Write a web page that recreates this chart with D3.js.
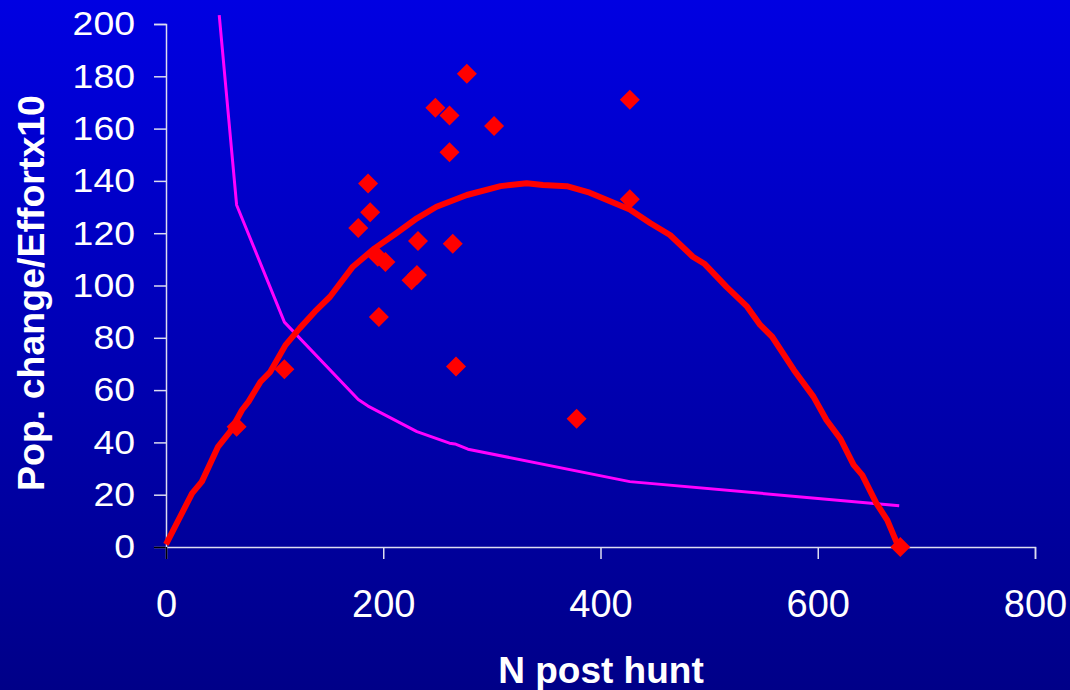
<!DOCTYPE html>
<html>
<head>
<meta charset="utf-8">
<script src="https://cdn.jsdelivr.net/npm/d3@7"></script>
<style>
  html, body { margin: 0; padding: 0; background: #00008a; }
  svg { display: block; }
  text { font-family: Arial, "Liberation Sans", sans-serif; fill: #ffffff; }
</style>
</head>
<body>
<svg id="chart" width="1070" height="690"></svg>
<script>
// Observed harvest data: population after hunt vs. population change per unit effort
const obsN      = [65, 109, 177, 186, 188, 195, 202, 196, 226, 231, 232, 248, 261, 261, 264, 267, 277, 302, 378, 427, 427, 676];
const obsChange = [46, 68, 122, 139, 128, 111, 109, 88, 102, 104, 117, 168, 165, 151, 116, 69, 181, 161, 49, 171, 133, 0];

// Fitted surplus-production curve
const fitN      = [0, 24, 33, 48, 59, 70, 76, 87, 96, 110, 123, 137, 151, 172, 192, 212, 231, 249, 277, 308, 332, 347, 369, 390, 427, 446, 464, 485, 496, 516, 535, 547, 558, 578, 596, 608, 621, 633, 641, 654, 664, 673];
const fitChange = [1, 20.5, 25, 38.4, 44.1, 52.4, 55.6, 63.2, 67, 77.2, 83.6, 90, 95.7, 107.2, 114.2, 120, 125.7, 130.1, 134.6, 138, 139.1, 138.4, 138, 135.5, 129.1, 123.8, 119.3, 111, 108.2, 99.5, 91.9, 84.9, 80.4, 67.7, 57.5, 48.6, 41.3, 31.4, 27.5, 16.7, 10.3, 1.4];

// Effort line
const effN      = [49, 65, 109, 177, 186, 231, 261, 266, 278, 427, 675];
const effValue  = [203.4, 130.8, 86.0, 56.4, 53.9, 44.1, 39.7, 39.4, 37.4, 25.0, 15.8];

const xTicks = [0, 200, 400, 600, 800];
const yTicks = [0, 20, 40, 60, 80, 100, 120, 140, 160, 180, 200];

const svg = d3.select("#chart");
const W = 1070, H = 690;

// Background gradient
const defs = svg.append("defs");
const grad = defs.append("linearGradient").attr("id", "bg")
  .attr("x1", 0).attr("y1", 0).attr("x2", 0).attr("y2", 1);
grad.append("stop").attr("offset", "0%").attr("stop-color", "#0000e2");
grad.append("stop").attr("offset", "100%").attr("stop-color", "#000088");
svg.append("rect").attr("width", W).attr("height", H).attr("fill", "url(#bg)");

const x = d3.scaleLinear().domain([0, 800]).range([166, 1035]);
const y = d3.scaleLinear().domain([0, 200]).range([547, 24]);

const axisColor = "#dcdcf0";
const font = "Arial, 'Liberation Sans', sans-serif";

// Y axis
const yAxis = svg.append("g").attr("transform", `translate(${x(0)},0)`)
  .call(d3.axisLeft(y).tickValues(yTicks).tickSize(12).tickPadding(19).tickFormat(d3.format("d")));
yAxis.select(".domain").attr("stroke", axisColor).attr("stroke-width", 1.5);
yAxis.selectAll(".tick line").attr("stroke", d => d === 0 ? "#000000" : axisColor).attr("stroke-width", 1.5);
yAxis.selectAll(".tick text").style("font-size", "34px").style("font-family", font)
  .attr("fill", "#ffffff")
  .attr("transform", "translate(-31,0) scale(1.1,1) translate(31,0)");

// X axis
const xAxis = svg.append("g").attr("transform", `translate(0,${y(0)})`)
  .call(d3.axisBottom(x).tickValues(xTicks).tickSize(12).tickPadding(0).tickFormat(d3.format("d")));
xAxis.select(".domain").attr("stroke", axisColor).attr("stroke-width", 1.5);
xAxis.selectAll(".tick line").attr("stroke", d => d === 0 ? "#000000" : axisColor).attr("stroke-width", 1.5);
xAxis.selectAll(".tick text").style("font-size", "38px").style("font-family", font)
  .attr("fill", "#ffffff").attr("dy", null).attr("y", 70);

// Effort line
const effPts = effN.map((n, i) => [n, effValue[i]]);
svg.append("path").datum(effPts)
  .attr("fill", "none").attr("stroke", "#ff00ff").attr("stroke-width", 3).attr("stroke-linejoin", "round")
  .attr("d", d3.line().x(d => x(d[0])).y(d => y(d[1])));

// Fitted curve
const fitPts = fitN.map((n, i) => [n, fitChange[i]]);
svg.append("path").datum(fitPts)
  .attr("fill", "none").attr("stroke", "#ff0000").attr("stroke-width", 6).attr("stroke-linejoin", "round")
  .attr("d", d3.line().x(d => x(d[0])).y(d => y(d[1])));

// Observed points as diamonds
const diamond = d3.symbol().type(d3.symbolSquare).size(200);
svg.append("g").selectAll("path").data(obsN.map((n, i) => [n, obsChange[i]])).join("path")
  .attr("d", diamond)
  .attr("fill", "#ff0000")
  .attr("transform", d => `translate(${x(d[0])},${y(d[1])}) rotate(45)`);

// Axis titles
svg.append("text")
  .attr("x", 601).attr("y", 683)
  .attr("text-anchor", "middle")
  .style("font-size", "37px").style("font-weight", "bold")
  .text("N post hunt");

svg.append("text")
  .attr("transform", "translate(44,293) rotate(-90)")
  .attr("text-anchor", "middle")
  .style("font-size", "37.5px").style("font-weight", "bold")
  .text("Pop. change/Effortx10");
</script>
</body>
</html>
